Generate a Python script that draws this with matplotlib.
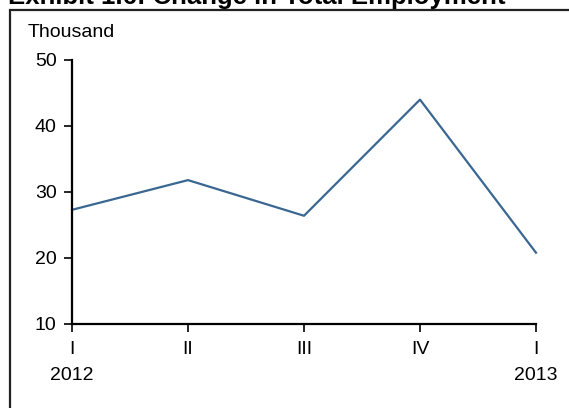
import matplotlib.pyplot as plt
from matplotlib.patches import Rectangle

# quarterly change in total employment, thousands
quarters = ["I\n2012", "II", "III", "IV", "I\n2013"]
change = [27.3, 31.8, 26.4, 44.0, 20.8]
yticks = [10, 20, 30, 40, 50]

plt.rcParams['font.family'] = ['Liberation Sans', 'DejaVu Sans']

fig = plt.figure(figsize=(5.69, 4.08), dpi=100)
W, H = 569, 408

# outer frame, runs off the right and bottom edges
fig.patches.append(Rectangle((9.5 / W, -0.1), 1.2, 1.1 - 10.5 / H,
                             transform=fig.transFigure, fill=False,
                             edgecolor='#222222', linewidth=1.6))
fig.text(8 / W, 1 - 4 / H, "Exhibit 1.6: Change in Total Employment",
         fontsize=18.5, fontweight='bold', va='baseline', ha='left')
fig.text(28 / W, 1 - 37 / H, "Thousand", fontsize=14, va='baseline', ha='left')

ax = fig.add_axes([72 / W, 1 - 324 / H, (536 - 72) / W, (324 - 60) / H])
x = list(range(len(quarters)))
ax.plot(x, change, color='#3A6792', linewidth=1.6, clip_on=False)

ax.set_xlim(0, len(quarters) - 1)
ax.set_ylim(10, 50)
ax.set_yticks(yticks)
ax.set_xticks(x)
ax.set_xticklabels(quarters, linespacing=1.75, va='top')
ax.tick_params(axis='both', direction='out', length=6, width=1.2, labelsize=14)
ax.tick_params(axis='x', pad=6)
ax.tick_params(axis='y', pad=5)
for side in ('top', 'right'):
    ax.spines[side].set_visible(False)
for side in ('left', 'bottom'):
    ax.spines[side].set_linewidth(1.6)

fig.savefig("out.png", dpi=100)
